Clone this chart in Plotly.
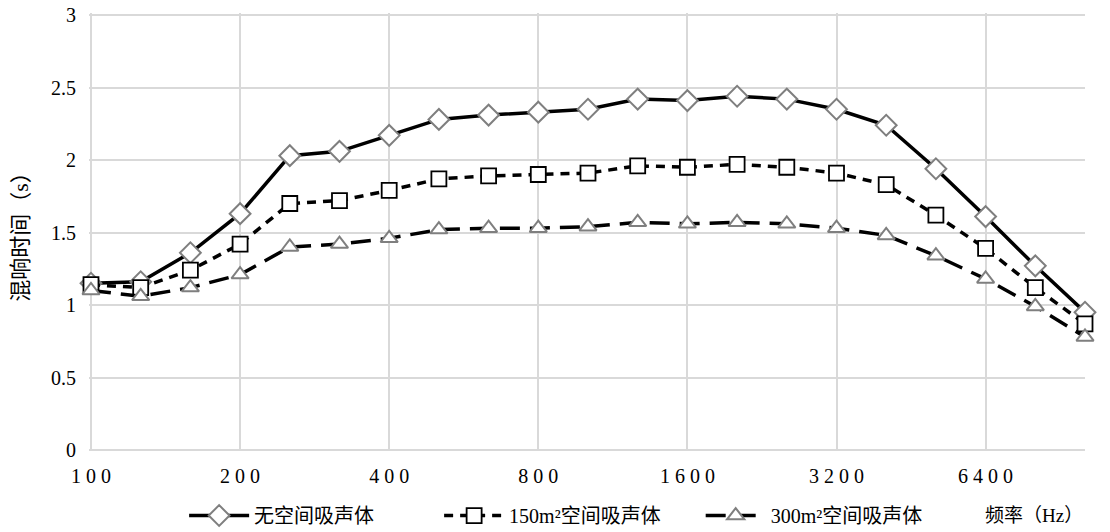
import plotly.graph_objects as go

# 1/3 octave band centre frequencies (Hz)
freqs = ["100", "125", "160", "200", "250", "315", "400", "500", "630", "800", "1000",
         "1250", "1600", "2000", "2500", "3200", "4000", "5000", "6400", "8000", "10000"]
tick_labels = ["1 0 0", "2 0 0", "4 0 0", "8 0 0", "1 6 0 0", "3 2 0 0", "6 4 0 0"]
tick_freqs = ["100", "200", "400", "800", "1600", "3200", "6400"]
y_ticks = [0, 0.5, 1, 1.5, 2, 2.5, 3]
y_labels = ["0", "0.5", "1", "1.5", "2", "2.5", "3"]

# reverberation time (s)
rt_none = [1.15, 1.16, 1.36, 1.63, 2.03, 2.06, 2.17, 2.28, 2.31, 2.33, 2.35,
           2.42, 2.41, 2.44, 2.42, 2.35, 2.24, 1.94, 1.61, 1.27, 0.95]
rt_150 = [1.14, 1.12, 1.24, 1.42, 1.70, 1.72, 1.79, 1.87, 1.89, 1.90, 1.91,
          1.96, 1.95, 1.97, 1.95, 1.91, 1.83, 1.62, 1.39, 1.12, 0.87]
rt_300 = [1.10, 1.06, 1.12, 1.21, 1.40, 1.42, 1.46, 1.52, 1.53, 1.53, 1.54,
          1.57, 1.56, 1.57, 1.56, 1.53, 1.48, 1.34, 1.18, 0.99, 0.78]

FONT = "Liberation Serif, Noto Sans CJK SC, serif"
NBSP = "\u00a0"

fig = go.Figure()
fig.add_trace(go.Scatter(
    x=freqs, y=rt_none, name="无空间吸声体" + NBSP * 12, mode="lines+markers",
    line=dict(color="black", width=3.5),
    marker=dict(symbol="diamond", size=16, color="white", line=dict(color="#7f7f7f", width=2)),
    cliponaxis=False,
))
fig.add_trace(go.Scatter(
    x=freqs, y=rt_150, name="150m²空间吸声体" + NBSP * 7, mode="lines+markers",
    line=dict(color="black", width=3.5, dash="9px,7px"),
    marker=dict(symbol="square", size=15, color="white", line=dict(color="black", width=1.8)),
    cliponaxis=False,
))
fig.add_trace(go.Scatter(
    x=freqs, y=rt_300, name="300m²空间吸声体", mode="lines+markers",
    line=dict(color="black", width=3.5, dash="20px,10px"),
    marker=dict(symbol="triangle-up", size=15, color="white", line=dict(color="#7f7f7f", width=2)),
    cliponaxis=False,
))

# the page body has an 8px margin, so the figure is shrunk by that much;
# ranges get ~2px of padding so the edge gridlines are not dropped
fig.update_layout(
    width=1102, height=524,
    margin=dict(l=81, r=25, t=5, b=82, autoexpand=False),
    paper_bgcolor="white", plot_bgcolor="white",
    font=dict(family=FONT, size=18, color="black"),
    showlegend=True,
    legend=dict(orientation="h", x=0.469, xanchor="center", y=-0.15, yanchor="middle",
                font=dict(size=20), itemwidth=60, traceorder="normal"),
    annotations=[dict(text="频率（Hz）", xref="paper", yref="paper", x=1.0, y=-0.15,
                      xanchor="right", yanchor="middle", showarrow=False,
                      font=dict(size=19))],
)
fig.update_xaxes(
    type="category", categoryorder="array", categoryarray=freqs,
    range=[-0.04, len(freqs) - 1], automargin=False,
    tickvals=tick_freqs, ticktext=tick_labels,
    showgrid=True, gridcolor="#d9d9d9", gridwidth=1.5,
    showline=False, zeroline=False, ticks="", ticklen=0, ticklabelstandoff=12,
    tickfont=dict(size=20),
)
fig.update_yaxes(
    range=[0, 3.014], automargin=False,
    tickvals=y_ticks, ticktext=y_labels, ticklabeloverflow="allow",
    showgrid=True, gridcolor="#d9d9d9", gridwidth=1.5,
    zeroline=True, zerolinecolor="#d9d9d9", zerolinewidth=1.5,
    showline=False, ticks="", ticklabelstandoff=12,
    title=dict(text="混响时间（s）", font=dict(size=22), standoff=18),
    tickfont=dict(size=20),
)

fig.write_html("out.html")
